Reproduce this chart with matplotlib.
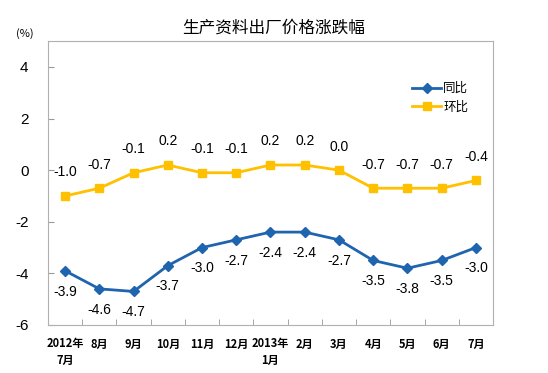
"""Producer goods ex-factory price change, YoY and MoM."""

import matplotlib

matplotlib.use("Agg")
import matplotlib.pyplot as plt
import numpy as np

MONTHS = ["2012年\n7月", "8月", "9月", "10月", "11月", "12月", "2013年\n1月",
          "2月", "3月", "4月", "5月", "6月", "7月"]
YOY = [-3.9, -4.6, -4.7, -3.7, -3.0, -2.7, -2.4, -2.4, -2.7, -3.5, -3.8, -3.5, -3.0]
MOM = [-1.0, -0.7, -0.1, 0.2, -0.1, -0.1, 0.2, 0.2, 0.0, -0.7, -0.7, -0.7, -0.4]
Y_TICKS = [-6, -4, -2, 0, 2, 4]

BLUE = "#1F64AE"
YELLOW = "#FFC000"
CJK = ["Noto Sans CJK SC", "DejaVu Sans"]
NUM = ["Liberation Sans", "DejaVu Sans"]


def main() -> None:
    fig = plt.figure(figsize=(5.48, 3.73), dpi=100)
    ax = fig.add_axes([0.0876, 0.1287, 0.812, 0.761])
    x = np.arange(len(MONTHS))

    ax.plot(x, YOY, color=BLUE, lw=2, marker="D", ms=5, label="同比")
    ax.plot(x, MOM, color=YELLOW, lw=2, marker="s", ms=6, label="环比")

    for xi, v in zip(x, YOY):
        ax.annotate(f"{v:.1f}", (xi, v), xytext=(0, -15), textcoords="offset points",
                    ha="center", va="center", fontsize=10, family=NUM)
    for xi, v in zip(x, MOM):
        ax.annotate(f"{v:.1f}", (xi, v), xytext=(0, 17), textcoords="offset points",
                    ha="center", va="center", fontsize=10, family=NUM)

    ax.set_xlim(-0.5, len(MONTHS) - 0.5)
    ax.set_ylim(-6, 5)
    ax.set_yticks(Y_TICKS)
    ax.set_yticklabels([str(t) for t in Y_TICKS], fontsize=11, family=NUM)
    ax.set_xticks(x)
    ax.set_xticklabels(MONTHS, fontsize=8, family=CJK, fontweight="bold", va="top",
                       linespacing=1.3)
    ax.set_xticks(np.arange(len(MONTHS) + 1) - 0.5, minor=True)
    ax.tick_params(axis="x", which="major", length=0, pad=9)
    ax.tick_params(axis="x", which="minor", length=4, color="#999999", direction="in")
    ax.tick_params(axis="y", length=4, color="#999999", direction="in", pad=14)
    for s in ax.spines.values():
        s.set_color("#B0B0B0")
        s.set_linewidth(0.8)

    ax.legend(loc="upper right", bbox_to_anchor=(0.97, 0.895), frameon=False,
              prop={"family": CJK, "size": 9}, handlelength=2.3,
              labelspacing=0.45, handletextpad=0.2)

    fig.text(0.5, 0.925, "生产资料出厂价格涨跌幅", ha="center", va="center",
             fontsize=12, family=CJK)
    fig.text(0.045, 0.91, "(%)", ha="center", va="center", fontsize=8, family=CJK)

    fig.savefig("out.png", dpi=100)


if __name__ == "__main__":
    main()
